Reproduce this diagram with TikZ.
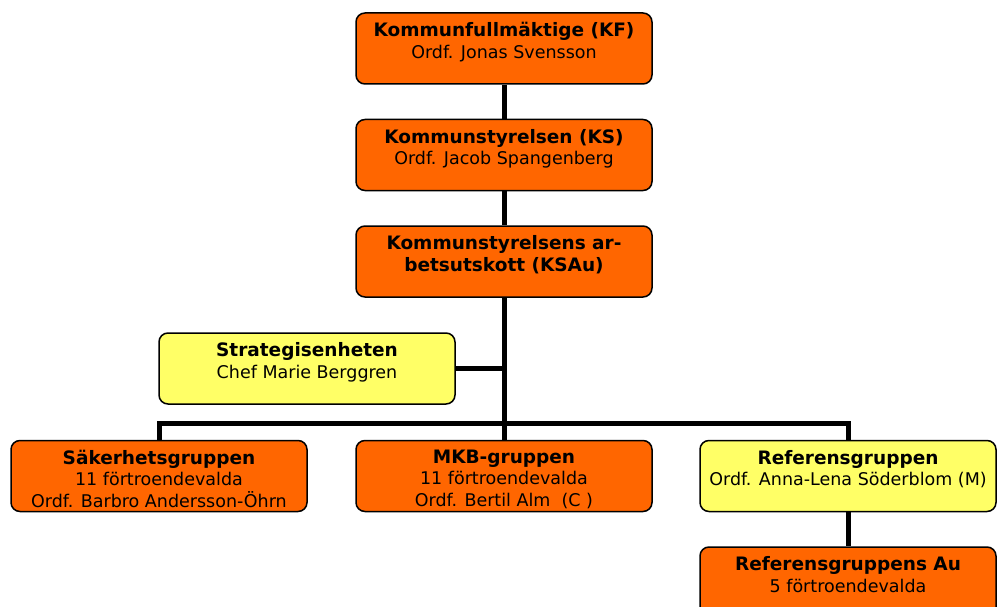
\documentclass[tikz,border=0pt]{standalone}
\usepackage{fontspec}
\setmainfont{DejaVu Sans}
\definecolor{orgorange}{HTML}{FF6600}
\definecolor{orgyellow}{HTML}{FFFF66}
\newcommand{\boxtext}[2]{\parbox[c][60pt][t]{294pt}{\centering\vspace*{4pt}{\fontsize{18.5}{22}\selectfont\bfseries #1}\\#2}}
\tikzset{
  orgbox/.style={draw=black, fill=#1, line width=1.5pt, rounded corners=9pt,
    minimum width=296pt, minimum height=71pt, inner sep=0pt,
    font=\fontsize{17.5}{21.5}\selectfont},
  link/.style={draw=black, line width=5pt}
}

\begin{document}
\begin{tikzpicture}[x=1pt, y=-1pt]
\clip (0,0) rectangle (999,607);

% ledning
\node[orgbox=orgorange] (kf) at (504,48.5) {\boxtext{Kommunfullmäktige (KF)}{Ordf. Jonas Svensson}};
\node[orgbox=orgorange] (ks) at (504,155) {\boxtext{Kommunstyrelsen (KS)}{Ordf. Jacob Spangenberg}};
\node[orgbox=orgorange] (ksau) at (504,261.5) {\boxtext{Kommunstyrelsens ar-}{\fontsize{18.5}{22}\selectfont\bfseries betsutskott (KSAu)}};
\node[orgbox=orgyellow] (strat) at (307,368.5) {\boxtext{Strategisenheten}{Chef Marie Berggren}};

% grupper
\node[orgbox=orgorange] (sak) at (159,476) {\boxtext{Säkerhetsgruppen}{11 förtroendevalda\\Ordf. Barbro Andersson-Öhrn}};
\node[orgbox=orgorange] (mkb) at (504,476) {\boxtext{MKB-gruppen}{11 förtroendevalda\\Ordf. Bertil Alm~ (C )}};
\node[orgbox=orgyellow] (ref) at (848,476) {\boxtext{Referensgruppen}{Ordf. Anna-Lena Söderblom (M)}};
\node[orgbox=orgorange] (refau) at (848,582.5) {\boxtext{Referensgruppens Au}{5 förtroendevalda}};

\coordinate (junc) at (504,423);

\begin{scope}[on background layer/.try]
\draw[link] (kf) -- (ks);
\draw[link] (ks) -- (ksau);
\draw[link] (ksau.south) -- (mkb.north);
\draw[link] (strat.east) -- (strat.east -| ksau.south);
\draw[link] (sak.north) |- (junc) -| (ref.north);
\draw[link] (ref.south) -- (refau.north);
\end{scope}
\end{tikzpicture}
\end{document}
